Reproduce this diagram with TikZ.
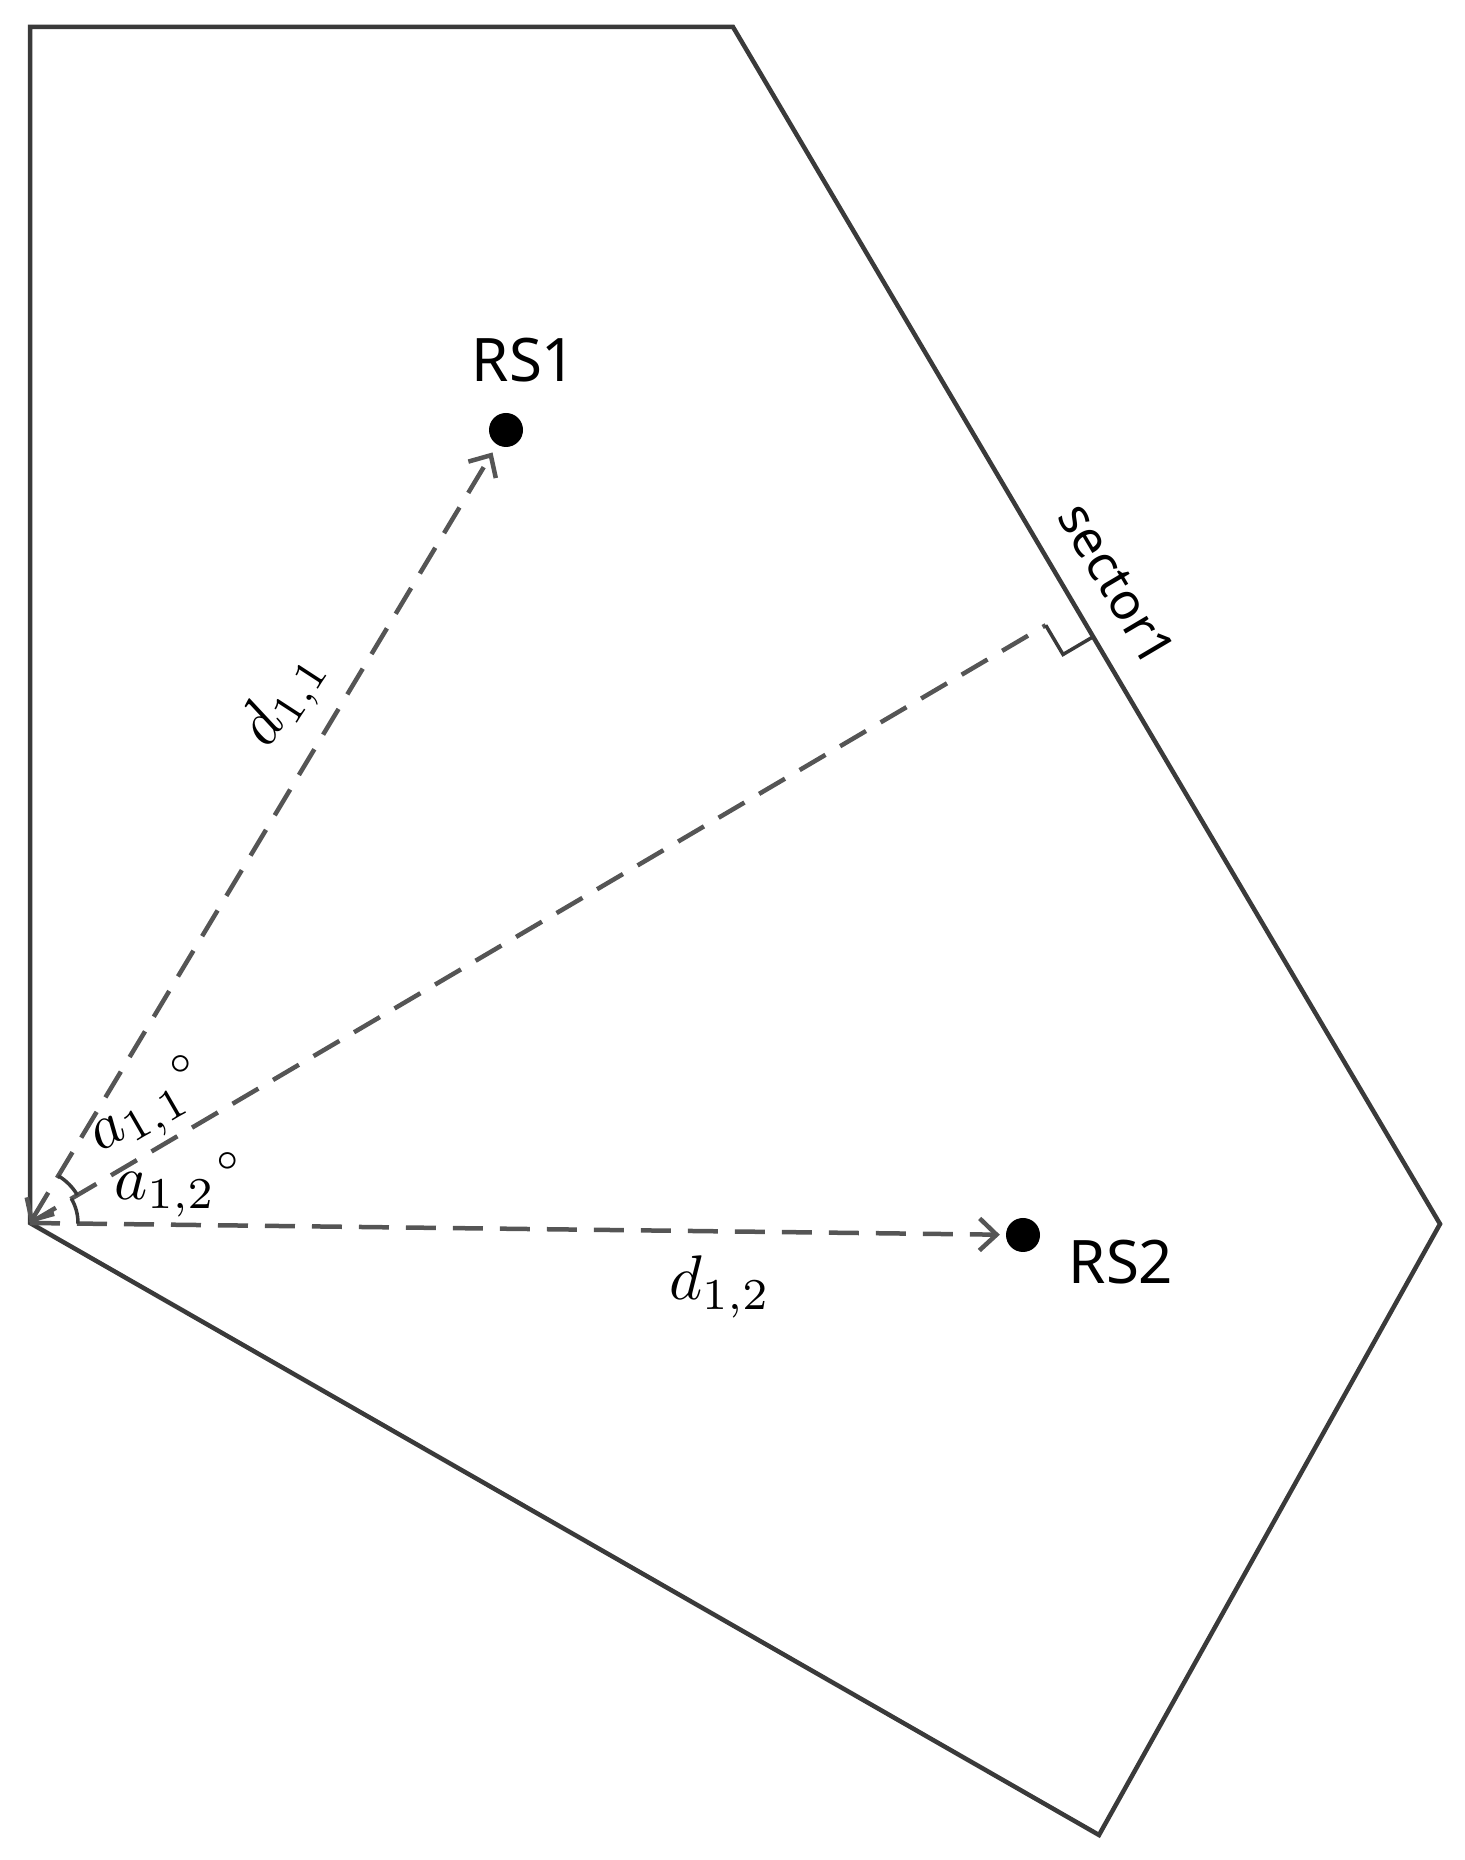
\documentclass[tikz,border=0pt]{standalone}
\usepackage{fontspec}
\newfontfamily\labelfont{Noto Sans}
\usetikzlibrary{arrows.meta,calc}
\definecolor{linegray}{HTML}{3A3A3A}
\definecolor{dashgray}{HTML}{555555}
\begin{document}
\begin{tikzpicture}[x=1pt,y=1pt,
  edge/.style={draw=linegray, line width=4.5pt, line join=miter},
  dashline/.style={draw=dashgray, line width=4.5pt, dash pattern=on 30pt off 17pt},
  tipend/.style={-{Straight Barb[length=17pt,width=32pt]}},
  tipboth/.style={{Straight Barb[length=17pt,width=32pt]}-{Straight Barb[length=17pt,width=32pt]}},
  dot/.style={circle, fill=black, inner sep=0pt, minimum size=34pt},
  rslabel/.style={font=\labelfont\fontsize{60}{72}\selectfont, inner sep=0pt},
  seclabel/.style={font=\labelfont\fontsize{51}{60}\selectfont, inner sep=0pt},
  mathlabel/.style={inner sep=0pt, scale=6.3},
  deglabel/.style={inner sep=0pt, scale=5.5},
  anglearc/.style={draw=linegray, line width=3.5pt},
]
\useasboundingbox (0,0) rectangle (1464,1860);
% sector outline
\coordinate (O) at (30,637);
\coordinate (TL) at (30,1833);
\coordinate (TR) at (733,1833);
\coordinate (R) at (1440,636);
\coordinate (B) at (1099,25);
\draw[edge] (TL) -- (TR) -- (R) -- (B) -- (O) -- cycle;

% stations
\node[dot] (rs1) at (506,1430) {};
\node[dot] (rs2) at (1023,625) {};
\node[rslabel] (rs1lab) at (524,1500) {RS1};
\node[rslabel] (rs2lab) at (1121,598) {RS2};

% perpendicular foot
\coordinate (F) at (1075,1252);
\coordinate (P1) at ($(F)!34pt!(O)$);
\coordinate (P2) at ($(F)!34pt!(R)$);
\coordinate (P3) at ($(P1)+(P2)-(F)$);

% dashed connectors
\draw[dashline, tipboth, shorten >=9pt] (O) -- (rs1);
\draw[dashline, tipend, shorten >=6pt] (O) -- (rs2);
\draw[dashline] (O) -- (P1);
\draw[draw=linegray, line width=3.5pt] (P1) -- (P3) -- (P2);

% angle arcs
\draw[anglearc] (O) ++(-0.7:48) arc[start angle=-0.7, end angle=30.5, radius=48];
\draw[anglearc] (O) ++(30.5:55) arc[start angle=30.5, end angle=59, radius=55];

% labels
\node[seclabel, rotate=-59.4] (sec) at (1117,1276) {sector1};
\node[mathlabel, rotate=57] (d11) at (285,1160) {$d_{1,1}$};
\node[mathlabel] (d12) at (720,573) {$d_{1,2}$};
\node[mathlabel, rotate=30] (a11) at (142,737) {$a_{1,1}$};
\node[deglabel] (deg11) at (181,795) {$\scriptstyle\circ$};
\node[mathlabel] (a12) at (165,665) {$a_{1,2}$};
\node[deglabel] (deg12) at (228,698) {$\scriptstyle\circ$};
\end{tikzpicture}
\end{document}
